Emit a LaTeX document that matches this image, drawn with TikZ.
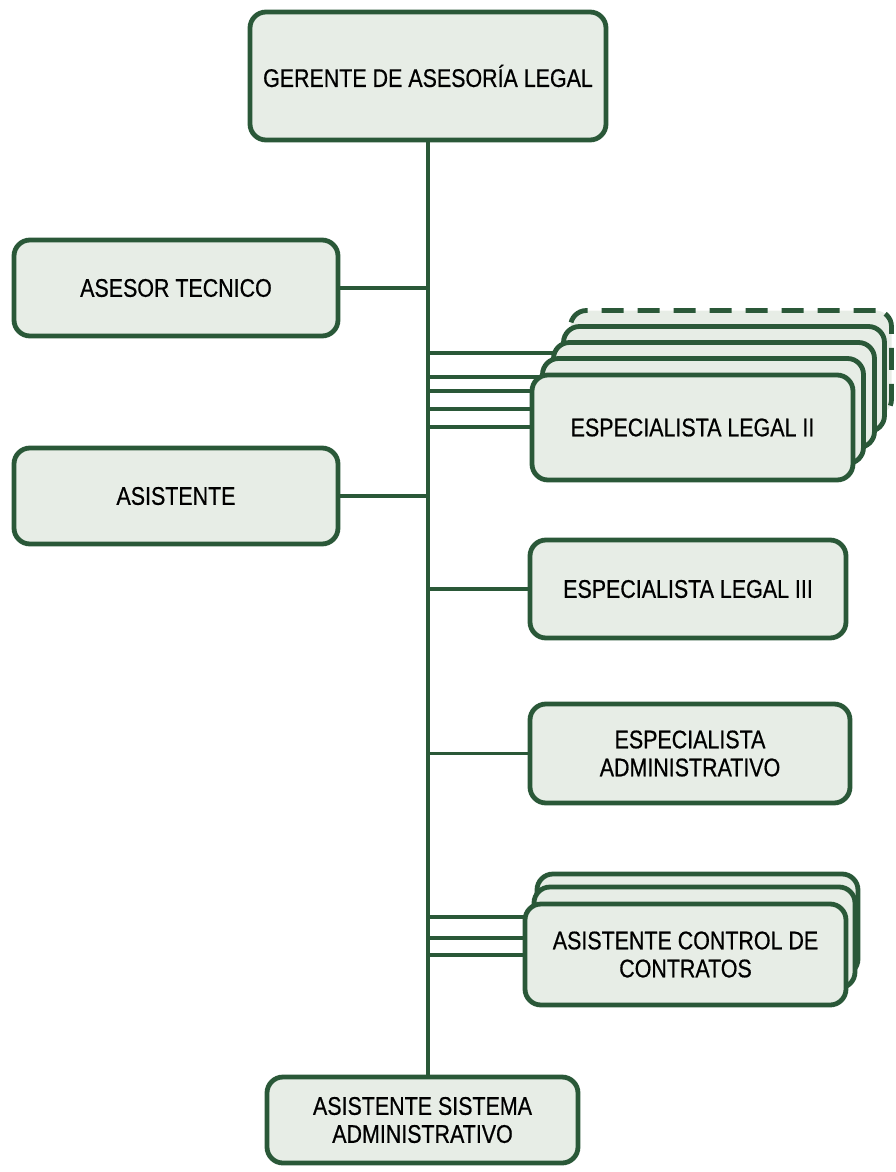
\documentclass[tikz,border=0pt]{standalone}
\usepackage{fontspec}
\setmainfont{Liberation Sans}[FakeStretch=0.84, FakeBold=0.6]
\usetikzlibrary{backgrounds}
\definecolor{orgline}{RGB}{42,88,56}
\definecolor{orgfill}{RGB}{231,237,230}
\begin{document}
\begin{tikzpicture}[x=1pt,y=-1pt,
  unit/.style={draw=orgline, fill=orgfill, line width=4.8pt, rounded corners=16pt,
    inner sep=0pt, outer sep=0pt, align=center, font=\fontsize{25.5}{28}\selectfont},
  link/.style={draw=orgline, line width=3.6pt}]
\useasboundingbox (0,0) rectangle (895,1172);

% head of the unit
\node[unit, minimum width=356pt, minimum height=128pt] (ger) at (428,76) {GERENTE DE ASESOR\'IA LEGAL};

% staff positions on the left
\node[unit, minimum width=324pt, minimum height=96pt] (at) at (176,288) {ASESOR TECNICO};
\node[unit, minimum width=324pt, minimum height=96pt] (as) at (176,496) {ASISTENTE};

% stacked boxes: Especialista Legal II (several positions)
\node[unit, dashed, dash pattern=on 22pt off 14pt, minimum width=321pt, minimum height=105pt] (el2e) at (731,363) {};
\node[unit, minimum width=321pt, minimum height=105pt] (el2d) at (724,379) {};
\node[unit, minimum width=321pt, minimum height=105pt] (el2c) at (714,395) {};
\node[unit, minimum width=321pt, minimum height=105pt] (el2b) at (703,411) {};
\node[unit, minimum width=321pt, minimum height=105pt] (el2) at (692.5,427.5) {ESPECIALISTA LEGAL II};

\node[unit, minimum width=316pt, minimum height=98pt] (el3) at (688,589) {ESPECIALISTA LEGAL III};
\node[unit, minimum width=320pt, minimum height=99pt] (ea) at (690,753.5) {ESPECIALISTA\\ADMINISTRATIVO};

% stacked boxes: Asistente Control de Contratos
\node[unit, minimum width=321pt, minimum height=101pt] (accc) at (697.5,924.5) {};
\node[unit, minimum width=321pt, minimum height=101pt] (accb) at (694.5,937.5) {};
\node[unit, minimum width=321pt, minimum height=101pt] (acc) at (685.5,954.5) {ASISTENTE CONTROL DE\\CONTRATOS};

\node[unit, minimum width=311pt, minimum height=86pt] (sis) at (422.5,1120) {ASISTENTE SISTEMA\\ADMINISTRATIVO};

% connectors behind the boxes
\begin{scope}[on background layer]
  \coordinate (trunk) at (428,142);
  \draw[link] (ger.south -| trunk) -- (trunk |- sis.north);
  \draw[link] (trunk |- at.east) -- (at.east);
  \draw[link] (trunk |- as.east) -- (as.east);
  \foreach \yy [count=\i] in {353,377,391,409,427} {
    \coordinate (j\i) at (428,\yy);
    \draw[link] (j\i) -- (j\i -| el2);
  }
  \draw[link] (trunk |- el3.west) -- (el3.west);
  \draw[link] (trunk |- ea.west) -- (ea.west);
  \foreach \yy [count=\i] in {917,938,955} {
    \coordinate (k\i) at (428,\yy);
    \draw[link] (k\i) -- (k\i -| acc);
  }
\end{scope}
\end{tikzpicture}
\end{document}
